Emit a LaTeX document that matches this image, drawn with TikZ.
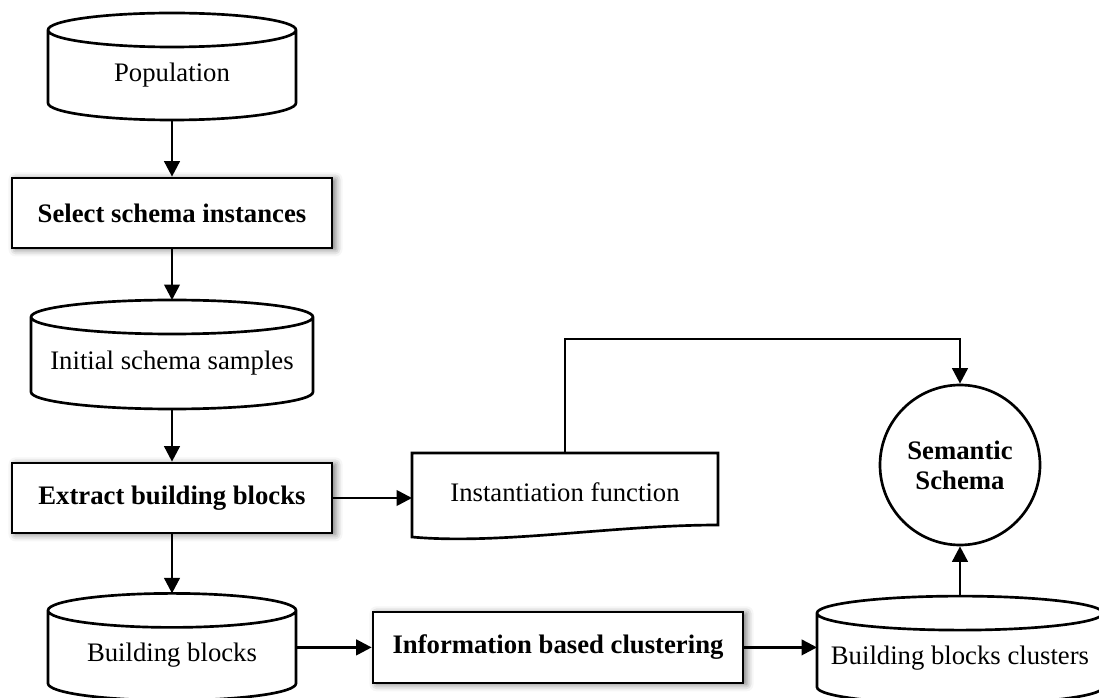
\documentclass[tikz,border=0pt]{standalone}
\usepackage{fontspec}
\setmainfont{Liberation Serif}
\usetikzlibrary{arrows.meta,shadows.blur,calc}

% half height of a cylinder cap
\newcommand{\capr}{0.425cm}
% cylinder outline around a node body: cap on top, front arc below
\newcommand{\drum}[1]{%
  \draw [wire] let \p1=(#1.north west), \p2=(#1.south east) in
    (\x1,\y1+\capr) -- (\x1,\y2)
    arc [start angle=180, end angle=360, x radius={(\x2-\x1)/2}, y radius=\capr]
    -- (\x2,\y1+\capr)
    ([yshift=\capr]#1.north) ellipse [x radius={(\x2-\x1)/2}, y radius=\capr];}

\begin{document}
\begin{tikzpicture}[>={Triangle[length=11pt,width=11pt]},
    every node/.style={font=\fontsize{19}{21.5}\selectfont},
    wire/.style={line width=1.9pt},
    proc/.style={draw, wire, fill=white, minimum width=8cm, minimum height=1.75cm,
        font=\fontsize{19}{21.5}\selectfont\bfseries,
        blur shadow={shadow xshift=2.5pt, shadow yshift=-1pt, shadow blur radius=5pt,
                     shadow opacity=55}},
    drum/.style={inner sep=0pt, outer sep=0pt, minimum height=1.4cm}]
    \useasboundingbox (0,0) rectangle (27.475,17.425);

    % Nodes {pop, sel, init, extr, inst, sem, bb, info, bbc}
    \node [drum, minimum width=6.2cm]  (pop)  at (4.3,15.55)   {Population};
    \node [proc]                       (sel)  at (4.3,12.1)    {Select schema instances};
    \node [drum, minimum width=7.05cm, minimum height=1.45cm]
                                       (init) at (4.3,8.35)    {Initial schema samples};
    \node [proc]                       (extr) at (4.3,4.975)   {Extract building blocks};
    \node [minimum width=7.65cm, minimum height=1.95cm, outer sep=0pt]
                                       (inst) at (14.125,5.125) {Instantiation function};
    \node [circle, draw, wire, minimum size=4cm, inner sep=0pt, align=center,
           font=\fontsize{19}{21.5}\selectfont\bfseries]
                                       (sem)  at (24,5.8)      {Semantic\\Schema};
    \node [drum, minimum width=6.2cm]  (bb)   at (4.3,1.04)    {Building blocks};
    \node [proc, minimum width=9.25cm, minimum height=1.775cm]
                                       (info) at (13.95,1.24)  {Information based clustering};
    \node [drum, minimum width=7.15cm, minimum height=1.425cm]
                                       (bbc)  at (24,0.96)     {Building blocks clusters};

    % Shapes
    \drum{pop}
    \drum{init}
    \drum{bb}
    \drum{bbc}
    \draw [wire] (inst.north west) -- ($(inst.south west)+(0,-0.15)$)
        .. controls +(2.2,-0.2) and +(-2.6,0) .. ($(inst.south east)+(0,0.15)$)
        -- (inst.north east) -- cycle;

    % Paths
    \path [->, wire] ([yshift=-\capr]pop.south) edge (sel.north);
    \path [->, wire] (sel.south)  edge ([yshift=2*\capr]init.north);
    \path [->, wire] ([yshift=-\capr]init.south) edge (extr.north);
    \path [->, wire] (extr.south) edge ([yshift=2*\capr]bb.north);
    \path [->, wire] (extr.east)  edge (extr.east -| inst.west);
    \path [->, wire] (bb.east |- info.west) edge (info.west);
    \path [->, wire] (info.east)  edge (info.east -| bbc.west);
    \path [->, wire] ([yshift=2*\capr]bbc.north) edge (sem.south);
    \draw [->, wire] (inst.north) -- ++(0,2.85) -| (sem.north);

\end{tikzpicture}
\end{document}
